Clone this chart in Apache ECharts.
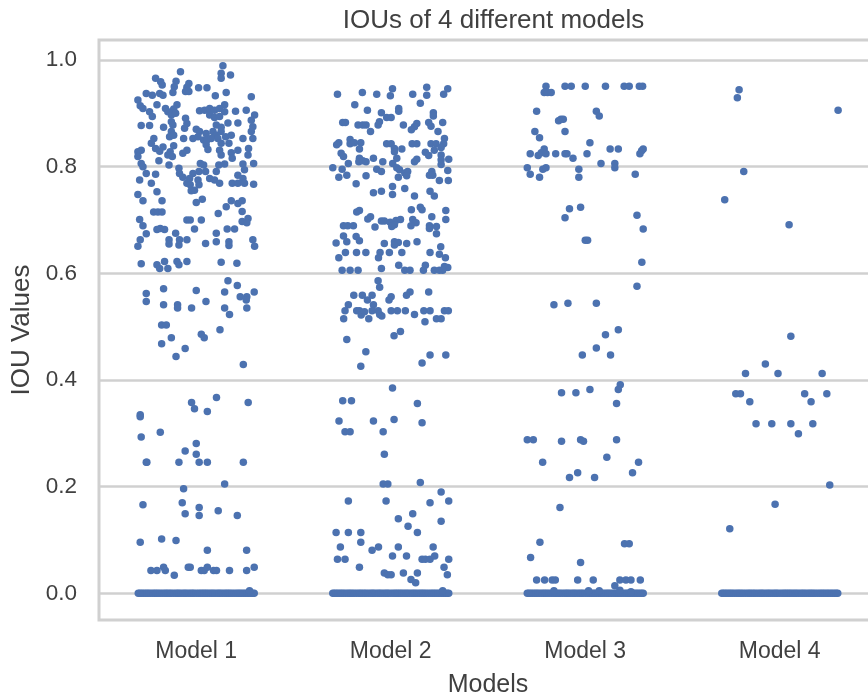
<!DOCTYPE html>
<html><head><meta charset="utf-8">
<style>html,body{margin:0;padding:0;background:#fff;overflow:hidden}#c{width:868px;height:698px;filter:blur(0.5px)}</style>
<script src="https://cdn.jsdelivr.net/npm/echarts@6/dist/echarts.min.js"></script>
</head><body><div id="c"></div>
<script>
const modelNames = ['Model 1','Model 2','Model 3','Model 4'];
const yTicks = [0,0.2,0.4,0.6,0.8,1.0];
const chartTitle = 'IOUs of 4 different models';

// each point: [horizontal jitter from the model's centre, IOU value]
const model1 = [[.137,.989],[.128,.975],[.128,.966],[.176,.972],[-.081,.978],[-.209,.966],[-.183,.959],[-.175,.953],[-.104,.960],[-.113,.950],[-.038,.956],[-.048,.949],[-.055,.941],[-.038,.941],[.012,.948],[.055,.948],[-.120,.939],[-.257,.937],[-.226,.934],[-.188,.937],[-.171,.934],[.098,.933],[.154,.939],[.283,.931],[-.300,.925],[-.288,.914],[-.274,.909],[-.202,.916],[-.099,.916],[-.116,.908],[-.158,.909],[.146,.916],[.202,.904],[.257,.906],[.017,.905],[.043,.906],[.069,.909],[.094,.906],[.120,.909],[.146,.903],[-.240,.903],[-.226,.894],[-.146,.903],[-.128,.897],[-.106,.900],[.300,.897],[.283,.887],[-.055,.891],[-.048,.881],[.069,.897],[.094,.892],[.120,.894],[.163,.882],[.214,.882],[-.283,.877],[-.240,.877],[-.168,.874],[-.128,.884],[-.120,.878],[-.060,.872],[.103,.878],[.128,.874],[.291,.875],[.283,.866],[-.128,.866],[-.137,.856],[-.116,.859],[.000,.870],[.017,.866],[-.017,.853],[.009,.856],[.051,.862],[.086,.866],[.103,.859],[.128,.866],[.151,.856],[.180,.859],[.240,.853],[.291,.853],[-.065,.853],[-.218,.853],[-.231,.844],[.038,.850],[.055,.850],[.077,.853],[.111,.853],[.128,.844],[.168,.844],[-.209,.834],[-.171,.837],[-.116,.839],[-.134,.828],[-.283,.831],[-.300,.828],[-.048,.831],[-.069,.825],[.051,.841],[.060,.832],[.120,.831],[.180,.826],[.214,.831],[.269,.834],[.266,.822],[-.300,.819],[-.188,.829],[-.146,.822],[-.123,.819],[.128,.822],[.185,.816],[-.192,.811],[-.283,.806],[-.274,.800],[-.140,.803],[.021,.806],[.038,.803],[.116,.803],[.146,.805],[.240,.805],[.295,.806],[-.089,.797],[.014,.791],[.048,.791],[.103,.791],[.248,.794],[-.257,.787],[-.209,.786],[-.086,.787],[-.069,.780],[-.017,.787],[-.034,.778],[.069,.778],[.094,.775],[.214,.784],[.240,.778],[-.291,.775],[-.231,.769],[-.048,.769],[-.031,.766],[.009,.775],[.014,.766],[.120,.769],[.185,.769],[.214,.769],[.248,.769],[.295,.767],[-.009,.756],[-.026,.755],[-.202,.753],[-.300,.748],[-.274,.736],[-.176,.736],[.000,.733],[.031,.739],[.180,.736],[.214,.731],[.236,.736],[.154,.725],[-.219,.715],[-.197,.715],[-.176,.715],[.113,.712],[.236,.716],[-.291,.701],[-.048,.700],[-.031,.700],[.026,.700],[.266,.703],[.236,.697],[.260,.695],[-.274,.689],[-.202,.682],[-.185,.684],[-.163,.682],[-.009,.683],[.159,.683],[.197,.683],[-.257,.674],[-.106,.675],[.103,.675],[-.288,.663],[-.300,.651],[-.140,.663],[-.140,.655],[-.086,.663],[-.089,.653],[-.048,.663],[.048,.656],[.103,.659],[.168,.659],[.168,.652],[.291,.663],[.300,.651],[-.283,.618],[-.202,.616],[-.188,.609],[-.163,.622],[-.146,.609],[-.099,.622],[-.089,.616],[-.048,.622],[.128,.621],[.209,.619],
[.163,.586],[.211,.577],[-.257,.562],[-.168,.571],[.000,.568],[.146,.565],[.226,.556],[.260,.556],[.298,.565],[.257,.550],[-.257,.547],[-.168,.541],[-.096,.541],[-.096,.535],[-.024,.535],[.050,.547],[.146,.535],[.260,.535],[.171,.523],[-.178,.503],[-.154,.503],[.122,.494],[.026,.486],[.041,.479],[-.128,.479],[-.178,.468],[-.057,.459],[-.104,.444],[.242,.429],[.104,.367],[-.024,.358],[.267,.358],[-.009,.346],[.057,.341],[-.288,.335],[-.288,.331],[-.283,.293],[-.185,.302],[.000,.281],[-.057,.267],[.000,.261],[-.257,.246],[-.254,.246],[-.089,.246],[.015,.246],[.057,.246],[.242,.246],[.146,.205],[-.065,.196],[-.274,.166],[-.072,.170],[.015,.161],[.113,.155],[-.057,.149],[.015,.146],[.211,.146],[-.288,.096],[-.178,.102],[-.104,.099],[.057,.081],[.259,.081],[-.233,.043],[-.202,.043],[-.168,.049],[-.159,.043],[-.113,.034],[-.041,.049],[-.031,.049],[.026,.043],[.041,.043],[.057,.049],[.089,.043],[.104,.043],[.171,.043],[.259,.043],[.298,.049],[.274,.005]];

const model2 = [[-.274,.936],[-.146,.939],[-.072,.936],[.009,.946],[-.002,.933],[.113,.936],[.185,.949],[.185,.934],[.293,.946],[.272,.936],[-.185,.916],[-.120,.906],[.152,.919],[.041,.909],[.041,.904],[-.048,.901],[-.021,.892],[.002,.892],[.219,.901],[.219,.895],[-.247,.883],[-.233,.883],[-.168,.878],[-.144,.878],[-.127,.878],[-.058,.884],[-.065,.878],[.065,.878],[.134,.881],[.122,.875],[.106,.869],[.195,.883],[.207,.876],[.267,.883],[-.104,.866],[.243,.866],[-.209,.851],[-.267,.845],[-.278,.841],[-.209,.843],[-.187,.845],[-.154,.845],[-.161,.833],[-.021,.843],[.002,.843],[.019,.834],[.019,.828],[.057,.833],[.110,.843],[.134,.843],[.207,.843],[.233,.843],[.276,.853],[.272,.843],[.259,.836],[.224,.831],[.178,.827],[.195,.821],[-.255,.825],[-.243,.819],[-.218,.806],[-.161,.816],[-.164,.809],[-.144,.811],[-.127,.809],[-.089,.816],[-.041,.809],[.031,.816],[.010,.806],[.134,.814],[.122,.809],[.259,.822],[.259,.813],[.298,.814],[.259,.804],[-.298,.798],[-.250,.795],[-.072,.795],[-.048,.791],[.031,.798],[.045,.794],[.087,.791],[.072,.788],[.082,.783],[.211,.791],[.199,.784],[.216,.784],[.293,.793],[-.267,.780],[-.226,.784],[-.127,.783],[.039,.780],[.250,.774],[.296,.774],[-.178,.768],[.009,.763],[.072,.759],[-.089,.751],[-.048,.754],[.009,.748],[.202,.754],[.224,.745],[.122,.745],[-.161,.718],[-.175,.715],[.152,.724],[.161,.719],[.106,.719],[.283,.718],[-.104,.706],[-.118,.702],[.211,.706],[.283,.701],[-.048,.698],[-.033,.698],[-.003,.696],[.027,.699],[.050,.701],[.113,.701],[.130,.695],[.019,.691],[.005,.688],[-.243,.689],[-.221,.689],[-.192,.689],[-.081,.687],[.104,.689],[.199,.689],[.235,.688],[.199,.684],[.235,.674],[-.243,.670],[-.226,.659],[-.178,.669],[-.161,.661],[-.281,.657],[-.033,.656],[.019,.659],[.039,.658],[.082,.656],[.135,.659],[.019,.653],[.257,.650],[-.233,.639],[-.176,.639],[-.128,.639],[-.267,.629],[-.055,.639],[-.063,.629],[-.007,.639],[.057,.639],[.202,.639],[.250,.636],[.281,.629],[.041,.615],[-.250,.606],[-.209,.606],[-.168,.606],[-.048,.609],[.072,.606],[.099,.606],[.178,.615],[.168,.606],[.224,.606],[.250,.606],[.276,.613],[.293,.611],[.267,.606],
[-.065,.586],[-.057,.574],[-.190,.559],[-.146,.559],[-.096,.559],[-.120,.550],[.002,.556],[-.009,.550],[.099,.565],[.081,.559],[.195,.565],[-.218,.541],[-.089,.541],[-.235,.530],[-.175,.530],[-.161,.530],[-.152,.522],[-.135,.528],[-.113,.515],[-.096,.530],[-.065,.530],[-.057,.523],[-.046,.520],[.002,.530],[.034,.530],[.075,.530],[.122,.523],[.170,.530],[.202,.530],[-.242,.515],[.176,.509],[.235,.515],[.259,.515],[.276,.530],[.296,.530],[-.226,.476],[.050,.491],[.017,.483],[-.128,.453],[-.154,.426],[.202,.447],[.283,.447],[.161,.432],[.009,.385],[-.247,.361],[-.202,.361],[.137,.356],[-.266,.323],[-.089,.323],[.017,.326],[.161,.320],[-.235,.303],[-.209,.303],[-.039,.303],[-.033,.261],[-.039,.205],[-.015,.205],[.152,.208],[-.218,.173],[-.024,.173],[.259,.190],[.202,.170],[.298,.173],[.113,.149],[.039,.140],[.259,.135],[.089,.126],[-.281,.114],[-.218,.114],[-.154,.114],[.137,.114],[-.154,.096],[-.259,.087],[-.063,.087],[-.096,.081],[.039,.087],[.218,.087],[-.274,.064],[-.235,.064],[.009,.070],[.081,.070],[.161,.064],[.178,.064],[.202,.064],[.226,.070],[.298,.064],[-.161,.049],[.274,.049],[-.033,.038],[-.015,.035],[.002,.035],[.065,.038],[.137,.038],[.291,.035],[.104,.026],[.128,.020],[.267,.005]];

const model3 = [[-.202,.951],[-.104,.951],[-.072,.951],[.000,.951],[.104,.951],[.200,.951],[.226,.951],[.278,.951],[.295,.951],[-.211,.939],[-.194,.939],[-.175,.939],[-.250,.904],[.057,.904],[.072,.895],[-.137,.886],[-.125,.889],[-.113,.889],[-.104,.866],[-.259,.866],[-.235,.854],[.024,.845],[-.283,.824],[-.242,.821],[-.226,.826],[-.211,.833],[-.202,.824],[-.152,.824],[-.104,.824],[-.094,.824],[-.063,.816],[.009,.824],[.128,.833],[.170,.833],[.298,.833],[.290,.830],[.281,.824],[-.298,.798],[-.218,.795],[-.202,.798],[-.033,.795],[.081,.806],[.152,.806],[.152,.798],[-.283,.786],[-.235,.780],[-.033,.780],[.257,.786],[-.081,.721],[-.024,.724],[-.104,.704],[.266,.709],[.298,.683],[.000,.662],[.012,.662],[.291,.621],[.266,.576],[-.161,.541],[-.089,.544],[.057,.544],[.104,.485],[.170,.494],[.057,.460],[-.015,.447],[.130,.447],[.180,.391],[.170,.382],[.024,.382],[-.122,.376],[-.048,.376],[.161,.356],[-.298,.288],[-.267,.288],[-.122,.285],[-.024,.288],[-.009,.285],[.161,.288],[.111,.255],[-.219,.246],[.274,.246],[-.039,.226],[.243,.226],[-.081,.217],[.048,.217],[-.130,.161],[-.233,.096],[.202,.093],[.226,.093],[-.281,.067],[-.024,.058],[-.250,.025],[-.209,.025],[-.170,.025],[-.154,.025],[-.039,.025],[.041,.025],[.178,.025],[.209,.025],[.235,.025],[.283,.025],[.152,.014],[.178,.006],[.235,.003],[.017,.005],[.072,.005],[-.161,.005]];

const model4 = [[-.209,.944],[-.218,.929],[.300,.906],[-.185,.791],[-.283,.738],[.048,.691],[.057,.482],[-.074,.430],[-.176,.412],[-.009,.412],[.218,.412],[-.226,.374],[-.202,.374],[-.154,.359],[.128,.374],[.161,.359],[.242,.374],[-.122,.318],[-.041,.318],[.057,.318],[.170,.318],[.096,.299],[.257,.203],[-.024,.167],[-.257,.121]];

// jitter of the many points whose IOU is exactly 0
const zeroJitter = [-.298,-.29,-.281,-.272,-.262,-.253,-.244,-.234,-.223,-.214,-.205,-.196,-.186,-.175,-.164,-.155,-.146,-.136,-.127,-.116,-.105,-.096,-.088,-.078,-.067,-.058,-.049,-.038,-.028,-.019,-.011,.001,.012,.022,.031,.04,.049,.058,.068,.078,.087,.097,.108,.117,.126,.136,.147,.156,.165,.174,.184,.195,.206,.215,.224,.233,.243,.252,.262,.271,.281,.29,.298];

const models = [model1, model2, model3, model4];
const points = [];
models.forEach((list, i) => {
  zeroJitter.forEach(off => points.push([i + off, 0]));
  list.forEach(p => points.push([i + p[0], p[1]]));
});

const textColor = '#404040';
const lineColor = '#d0d0d0';
const font = '"Liberation Sans", Arial, sans-serif';
const chart = echarts.init(document.getElementById('c'), null, {renderer:'canvas'});
chart.setOption({
  animation:false,
  backgroundColor:'#fff',
  title:{text:chartTitle,left:488.5,top:3,textAlign:'center',
    textStyle:{fontFamily:font,fontSize:26,fontWeight:'normal',color:textColor}},
  grid:{left:99,top:40,width:778,height:580,outerBoundsMode:'none',show:true,borderColor:lineColor,borderWidth:3,backgroundColor:'transparent'},
  xAxis:{type:'value',min:-0.5,max:3.5,interval:1,
    name:'Models',nameLocation:'middle',nameGap:53,
    nameTextStyle:{fontFamily:font,fontSize:25,color:textColor},
    axisLine:{show:false},axisTick:{show:false},splitLine:{show:false},
    axisLabel:{fontFamily:font,fontSize:23,color:textColor,margin:20,
      customValues:[0,1,2,3],
      formatter:v=>modelNames[Math.round(v)]}},
  yAxis:{type:'value',min:-0.05,max:1.0375,
    name:'IOU Values',nameLocation:'middle',nameGap:63,nameRotate:90,
    nameTextStyle:{fontFamily:font,fontSize:26,color:textColor},
    axisLine:{show:false},
    axisTick:{show:false,customValues:yTicks},
    axisLabel:{fontFamily:font,fontSize:22.5,color:textColor,margin:22,
      customValues:yTicks,formatter:v=>v.toFixed(1)},
    splitLine:{show:true,lineStyle:{color:lineColor,width:2.5}}},
  series:[{type:'scatter',data:points,symbol:'circle',symbolSize:7.5,
    itemStyle:{color:'#4c72b0',opacity:1},silent:true,z:3}]
});
</script></body></html>
